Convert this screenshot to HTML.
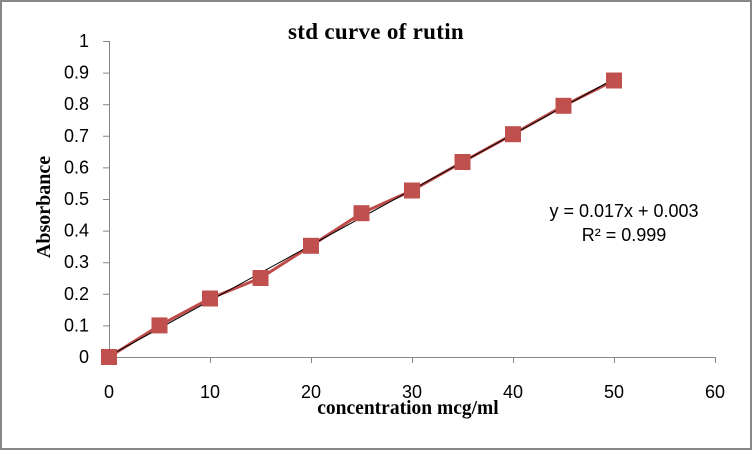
<!DOCTYPE html>
<html><head><style>body{margin:0;background:#fff}svg{display:block}</style></head>
<body>
<svg width="753" height="451" xmlns="http://www.w3.org/2000/svg">
<rect x="1" y="1" width="750" height="448" fill="#fff" stroke="#868686" stroke-width="2"/>
<text x="376" y="39" font-family="Liberation Serif,serif" font-weight="bold" font-size="23" text-anchor="middle" letter-spacing="0.3">std curve of rutin</text>
<g stroke="#868686" stroke-width="1" fill="none">
<line x1="109.5" y1="41" x2="109.5" y2="357"/>
<line x1="109" y1="357.5" x2="715" y2="357.5"/>
<path d="M103 41.5h6M103 73.1h6M103 104.7h6M103 136.3h6M103 167.9h6M103 199.5h6M103 231.1h6M103 262.7h6M103 294.3h6M103 325.9h6M103 357.5h6"/>
<path d="M109.5 357v6M210.5 357v6M311.5 357v6M412.5 357v6M513.5 357v6M614.5 357v6M715.5 357v6"/>
</g>
<g font-family="Liberation Sans,sans-serif" font-size="18" fill="#000" text-anchor="end">
<text x="89" y="47">1</text><text x="89" y="78.6">0.9</text><text x="89" y="110.2">0.8</text><text x="89" y="141.8">0.7</text><text x="89" y="173.4">0.6</text><text x="89" y="205">0.5</text><text x="89" y="236.6">0.4</text><text x="89" y="268.2">0.3</text><text x="89" y="299.8">0.2</text><text x="89" y="331.4">0.1</text><text x="89" y="363">0</text>
</g>
<g font-family="Liberation Sans,sans-serif" font-size="18" fill="#000" text-anchor="middle">
<text x="109" y="398">0</text><text x="210" y="398">10</text><text x="311" y="398">20</text><text x="412" y="398">30</text><text x="513" y="398">40</text><text x="614" y="398">50</text><text x="715" y="398">60</text>
</g>
<text x="408" y="414" font-family="Liberation Serif,serif" font-weight="bold" font-size="19.5" text-anchor="middle">concentration mcg/ml</text>
<text transform="translate(50,207) rotate(-90)" font-family="Liberation Serif,serif" font-weight="bold" font-size="20" text-anchor="middle">Absorbance</text>
<text x="624" y="217" font-family="Liberation Sans,sans-serif" font-size="18" text-anchor="middle">y = 0.017x + 0.003</text>
<text x="624" y="241" font-family="Liberation Sans,sans-serif" font-size="18" text-anchor="middle">R² = 0.999</text>
<polyline fill="none" stroke="#BE4B48" stroke-width="3" points="109,357 159.5,325.4 210,298.5 260.5,278 311,245.8 361.5,213.2 412,190.5 462.5,162 513,134.2 563.5,105.8 614,80.5"/>
<line x1="109" y1="356" x2="614" y2="79" stroke="#000" stroke-width="1"/>
<g fill="#C0504D">
<rect x="101" y="349" width="16" height="16"/><rect x="151.5" y="317.4" width="16" height="16"/><rect x="202" y="290.5" width="16" height="16"/><rect x="252.5" y="270" width="16" height="16"/><rect x="303" y="237.8" width="16" height="16"/><rect x="353.5" y="205.2" width="16" height="16"/><rect x="404" y="182.5" width="16" height="16"/><rect x="454.5" y="154" width="16" height="16"/><rect x="505" y="126.2" width="16" height="16"/><rect x="555.5" y="97.8" width="16" height="16"/><rect x="606" y="72.5" width="16" height="16"/>
</g>
</svg>
</body></html>
